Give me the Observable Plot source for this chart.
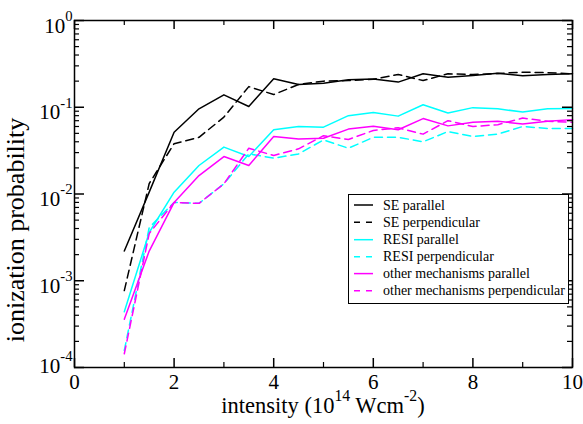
<!DOCTYPE html>
<html><head><meta charset="utf-8">
<script src="https://cdn.jsdelivr.net/npm/d3@7"></script>
<script src="https://cdn.jsdelivr.net/npm/@observablehq/plot@0.6"></script>
<style>
body{margin:0;background:#fff}
#chart svg{font-family:"Liberation Serif","Times New Roman",serif;display:block}
</style>
</head><body><div id="chart"></div><script>
// ---- data ----
const intensity = [1, 1.5, 2, 2.5, 3, 3.5, 4, 4.5, 5, 5.5, 6, 6.5, 7, 7.5, 8, 8.5, 9, 9.5, 10];
const seParallel      = [2.2e-3, 0.0105, 0.0515, 0.096, 0.139, 0.102, 0.213, 0.183, 0.189, 0.207, 0.211, 0.195, 0.243, 0.222, 0.232, 0.247, 0.230, 0.239, 0.243];
const sePerpendicular = [7.7e-4, 0.0132, 0.038, 0.045, 0.077, 0.173, 0.140, 0.183, 0.200, 0.203, 0.210, 0.239, 0.203, 0.243, 0.238, 0.245, 0.254, 0.250, 0.243];
const resiParallel    = [4.4e-4, 3.6e-3, 0.0105, 0.0213, 0.0347, 0.0271, 0.055, 0.060, 0.059, 0.080, 0.087, 0.079, 0.107, 0.086, 0.099, 0.096, 0.088, 0.096, 0.097];
const resiPerpendicular = [1.57e-4, 4.1e-3, 8.0e-3, 7.8e-3, 0.0131, 0.029, 0.0259, 0.029, 0.042, 0.0337, 0.045, 0.045, 0.040, 0.0525, 0.046, 0.049, 0.060, 0.057, 0.057];
const otherParallel   = [3.6e-4, 2.2e-3, 8.0e-3, 0.0163, 0.027, 0.0213, 0.046, 0.043, 0.044, 0.056, 0.0605, 0.055, 0.074, 0.061, 0.067, 0.069, 0.064, 0.069, 0.072];
const otherPerpendicular = [1.44e-4, 3.5e-3, 8.0e-3, 7.8e-3, 0.0131, 0.0337, 0.0278, 0.0332, 0.047, 0.0425, 0.054, 0.058, 0.049, 0.070, 0.060, 0.063, 0.075, 0.069, 0.067];

const seriesNames = ["SE parallel", "SE perpendicular", "RESI parallel", "RESI perpendicular", "other mechanisms parallel", "other mechanisms perpendicular"];
const seriesValues = [seParallel, sePerpendicular, resiParallel, resiPerpendicular, otherParallel, otherPerpendicular];
const seriesColors = ["#000000", "#000000", "#00ffff", "#00ffff", "#ff00ff", "#ff00ff"];
const seriesDashed = [false, true, false, true, false, true];

const yMajorTicks = [1e-4, 1e-3, 1e-2, 1e-1, 1];
const yMinorTicks = [2e-4,3e-4,4e-4,5e-4,6e-4,7e-4,8e-4,9e-4,2e-3,3e-3,4e-3,5e-3,6e-3,7e-3,8e-3,9e-3,2e-2,3e-2,4e-2,5e-2,6e-2,7e-2,8e-2,9e-2,0.2,0.3,0.4,0.5,0.6,0.7,0.8,0.9];
const xMajorTicks = [0, 2, 4, 6, 8, 10];
const xMinorTicks = [1, 3, 5, 7, 9];
const xTitle = "intensity (10^{14} Wcm^{-2})";
const yTitle = "ionization probability";

// ---- layout ----
const W = 583, H = 424;
const mL = 74, mR = 11, mT = 20, mB = 57;
const fw = W - mL - mR, fh = H - mT - mB;
const FS = 21;
const dash = "8,5";
const expFmt = d => `10^{${Math.round(Math.log10(d))}}`;

const lineMarks = seriesValues.map((vals, s) =>
  Plot.line(intensity.map((x, i) => ({x, y: vals[i]})), {
    x: "x", y: "y", stroke: seriesColors[s], strokeWidth: 1.5,
    strokeDasharray: seriesDashed[s] ? dash : null
  })
);

const chart = Plot.plot({
  width: W, height: H,
  marginLeft: mL, marginRight: mR, marginTop: mT, marginBottom: mB,
  style: {fontFamily: '"Liberation Serif","Times New Roman",serif', background: "#fff", color: "#000"},
  x: {domain: [0, 10], label: null},
  y: {type: "log", domain: [1e-4, 1], label: null},
  marks: [
    ...lineMarks,
    // inward ticks on all four sides
    Plot.tickY(yMajorTicks, {y: d => d, insetRight: fw - 10, stroke: "#000", strokeWidth: 1.5}),
    Plot.tickY(yMinorTicks, {y: d => d, insetRight: fw - 5, stroke: "#000", strokeWidth: 1.2}),
    Plot.tickY(yMajorTicks, {y: d => d, insetLeft: fw - 10, stroke: "#000", strokeWidth: 1.5}),
    Plot.tickY(yMinorTicks, {y: d => d, insetLeft: fw - 5, stroke: "#000", strokeWidth: 1.2}),
    Plot.tickX(xMajorTicks, {x: d => d, insetTop: fh - 9, stroke: "#000", strokeWidth: 1.5}),
    Plot.tickX(xMinorTicks, {x: d => d, insetTop: fh - 5, stroke: "#000", strokeWidth: 1.2}),
    Plot.tickX(xMajorTicks, {x: d => d, insetBottom: fh - 9, stroke: "#000", strokeWidth: 1.5}),
    Plot.tickX(xMinorTicks, {x: d => d, insetBottom: fh - 5, stroke: "#000", strokeWidth: 1.2}),
    Plot.frame({stroke: "#000", strokeWidth: 1.5}),
    Plot.axisY(yMajorTicks.filter(d => d > 1e-4), {anchor: "left", label: null, tickSize: 0, tickPadding: 2, tickFormat: expFmt, fontSize: FS, lineAnchor: "bottom", dy: 12, fill: "#000"}),
    Plot.axisY(yMajorTicks.filter(d => d <= 1e-4), {anchor: "left", label: null, tickSize: 0, tickPadding: 2, tickFormat: expFmt, fontSize: FS, lineAnchor: "bottom", dy: 5, fill: "#000"}),
    Plot.axisX(xMajorTicks, {anchor: "bottom", label: null, tickSize: 0, tickPadding: 0, tickFormat: d => String(d), fontSize: FS, lineAnchor: "bottom", dy: 21, fill: "#000"})
  ]
});
document.getElementById("chart").appendChild(chart);

const svg = d3.select(chart);

// titles
svg.append("text").attr("x", 323).attr("y", 413).attr("text-anchor", "middle")
  .attr("font-size", 22.5).attr("fill", "#000").text(xTitle);
svg.append("text").attr("transform", "translate(24,230) rotate(-90)").attr("text-anchor", "middle")
  .attr("font-size", 26).attr("fill", "#000").text(yTitle);

// legend
const lg = svg.append("g").attr("text-anchor", "start");
lg.append("rect").attr("x", 348.5).attr("y", 194.5).attr("width", 220).attr("height", 109)
  .attr("fill", "#fff").attr("stroke", "#000").attr("stroke-width", 1);
const rowY = [205, 222.3, 239.7, 256.8, 273.6, 290.7];
seriesNames.forEach((name, s) => {
  lg.append("line").attr("x1", 354).attr("x2", 373).attr("y1", rowY[s]).attr("y2", rowY[s])
    .attr("stroke", seriesColors[s]).attr("stroke-width", 1.5)
    .attr("stroke-dasharray", seriesDashed[s] ? "6,6" : null);
  lg.append("text").attr("x", 383).attr("y", rowY[s] + 4.5).attr("font-size", 14)
    .attr("text-anchor", "start").attr("fill", "#000").text(name);
});

// superscripts: "a^{b}c" -> tspans
const NS = "http://www.w3.org/2000/svg";
svg.selectAll("text").each(function () {
  const s = this.textContent;
  if (!s.includes("^{")) return;
  const fs = parseFloat(getComputedStyle(this).fontSize) || FS;
  const raise = 0.55 * fs;
  while (this.firstChild) this.removeChild(this.firstChild);
  const re = /\^\{([^}]*)\}/g;
  let last = 0, m, up = false;
  const add = (txt, sup) => {
    const t = document.createElementNS(NS, "tspan");
    t.textContent = txt;
    if (sup) { t.setAttribute("font-size", (0.7 * fs) + "px"); t.setAttribute("dy", (-raise) + "px"); up = true; }
    else if (up) { t.setAttribute("dy", raise + "px"); up = false; }
    this.appendChild(t);
  };
  while ((m = re.exec(s))) {
    if (m.index > last) add(s.slice(last, m.index), false);
    add(m[1], true);
    last = m.index + m[0].length;
  }
  if (last < s.length) add(s.slice(last), false);
});
</script></body></html>
